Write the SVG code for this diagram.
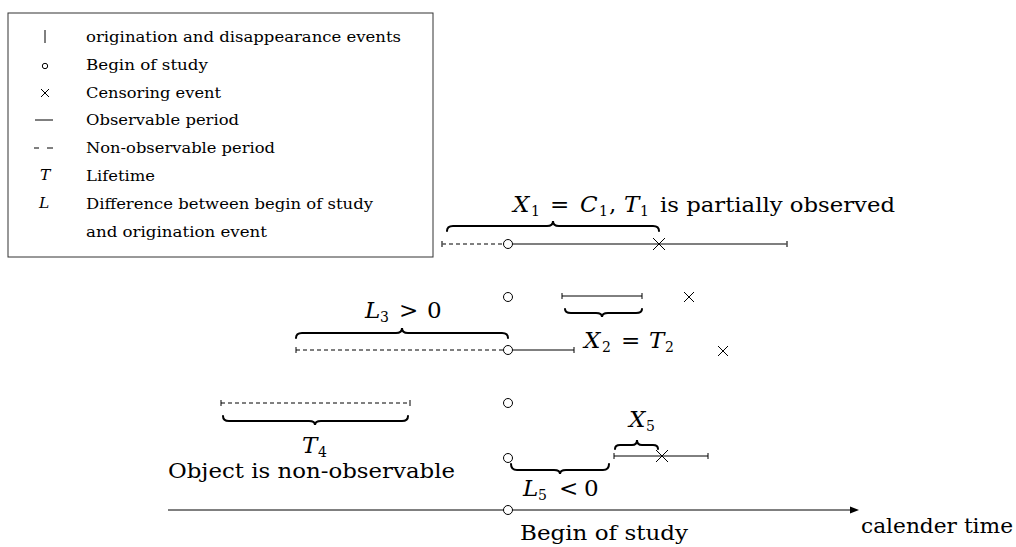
<svg xmlns="http://www.w3.org/2000/svg" width="1016" height="547" viewBox="0 0 1016 547">
<style>
text{font-family:"DejaVu Serif","Liberation Serif",serif;fill:#000}
.leg{font-size:15.5px}
.big{font-size:21px}
.m{font-size:23px}
.sub{font-size:14px}
.it{font-style:italic}
.ln{stroke:#000;stroke-width:1;fill:none}
.ln1{stroke:#555;stroke-width:1.6;fill:none}
.dash{stroke-dasharray:4 3}
.brace{stroke:#000;stroke-width:2;fill:none;stroke-linecap:round}
.circ{fill:#fff;stroke:#000;stroke-width:1}
</style>
<rect width="1016" height="547" fill="#fff"/>

<g id="legend">
<rect x="8" y="13" width="425" height="244" fill="#fff" stroke="#333" stroke-width="1"/>
<line class="ln" x1="45" y1="30" x2="45" y2="43"/>
<circle class="circ" cx="45" cy="66" r="2.7"/>
<path class="ln" d="M41,89 L49,97 M49,89 L41,97"/>
<line class="ln" x1="35" y1="120" x2="53" y2="120"/>
<path class="ln" d="M34,148 H39 M47,148 H53" stroke-width="1.3"/>
<text class="leg it" x="40" y="180">T</text>
<text class="leg it" x="39" y="208">L</text>
<text class="leg" x="86" y="41.5" textLength="315" lengthAdjust="spacingAndGlyphs">origination and disappearance events</text>
<text class="leg" x="86" y="69.5" textLength="122" lengthAdjust="spacingAndGlyphs">Begin of study</text>
<text class="leg" x="86" y="97.5" textLength="135" lengthAdjust="spacingAndGlyphs">Censoring event</text>
<text class="leg" x="86" y="125" textLength="153" lengthAdjust="spacingAndGlyphs">Observable period</text>
<text class="leg" x="86" y="153" textLength="189" lengthAdjust="spacingAndGlyphs">Non-observable period</text>
<text class="leg" x="86" y="181" textLength="69" lengthAdjust="spacingAndGlyphs">Lifetime</text>
<text class="leg" x="86" y="209" textLength="287" lengthAdjust="spacingAndGlyphs">Difference between begin of study</text>
<text class="leg" x="86" y="237" textLength="181" lengthAdjust="spacingAndGlyphs">and origination event</text>
</g>

<g id="connectors">
<g id="axis">
<line class="ln" x1="168" y1="510" x2="852" y2="510"/>
<polygon points="850,506.5 859,510 850,513.5" fill="#000"/>
</g>
</g>

<g id="row1">
<line class="ln1 dash" x1="442" y1="244" x2="503" y2="244"/>
<line class="ln1" x1="442" y1="241" x2="442" y2="247"/>
<line class="ln1" x1="512.5" y1="244" x2="787" y2="244"/>
<line class="ln1" x1="787" y1="241" x2="787" y2="247"/>
<circle class="circ" cx="508" cy="244" r="4.5" stroke="#333" stroke-width="1.3"/>
<path class="ln" d="M653,238 L665,250 M665,238 L653,250" stroke-width="1.3"/>
<path class="brace" d="M447,231 Q447,226 453,226 L547,226 Q553,226 553,221 Q553,226 559,226 L653,226 Q659,226 659,231"/>
<text class="m it" x="513" y="212">X</text>
<text class="sub" x="531" y="216">1</text>
<text class="m" x="550" y="212">=</text>
<text class="m it" x="580" y="212">C</text>
<text class="sub" x="599" y="216">1</text>
<text class="m" x="609" y="212">,</text>
<text class="m it" x="624" y="212">T</text>
<text class="sub" x="640" y="216">1</text>
<text class="big" x="660" y="212" textLength="235" lengthAdjust="spacingAndGlyphs">is partially observed</text>
</g>

<g id="row2">
<circle class="circ" cx="508" cy="297" r="4.5"/>
<line class="ln" x1="562" y1="296" x2="642" y2="296"/>
<line class="ln" x1="562" y1="293" x2="562" y2="299"/>
<line class="ln" x1="642" y1="293" x2="642" y2="299"/>
<path class="brace" d="M565,309 Q565,313 571,313 L596,313 Q602,313 602,317 Q602,313 608,313 L636,313 Q642,313 642,309"/>
<path class="ln" d="M684,292 L694,302 M694,292 L684,302"/>
<text class="m it" x="584" y="348">X</text>
<text class="sub" x="602" y="352">2</text>
<text class="m" x="621" y="348">=</text>
<text class="m it" x="649" y="348">T</text>
<text class="sub" x="665" y="352">2</text>
</g>

<g id="row3">
<line class="ln dash" x1="296" y1="350" x2="503" y2="350"/>
<line class="ln" x1="296" y1="347" x2="296" y2="353"/>
<line class="ln" x1="512.5" y1="350" x2="574" y2="350"/>
<line class="ln" x1="574" y1="347" x2="574" y2="353"/>
<circle class="circ" cx="508" cy="350" r="4.5"/>
<path class="brace" d="M296,338 Q296,333 302,333 L396,333 Q402,333 402,328 Q402,333 408,333 L502,333 Q508,333 508,338"/>
<text class="m it" x="365" y="318">L</text>
<text class="sub" x="380" y="322">3</text>
<text class="m" x="399" y="318">&gt;</text>
<text class="m" x="427" y="318">0</text>
<path class="ln" d="M718,346 L728,356 M728,346 L718,356"/>
</g>

<g id="row4">
<line class="ln dash" x1="221" y1="403" x2="410" y2="403"/>
<line class="ln" x1="221" y1="400" x2="221" y2="406"/>
<line class="ln" x1="410" y1="400" x2="410" y2="406"/>
<path class="brace" d="M223,416 Q223,421 229,421 L309,421 Q315,421 315,425 Q315,421 321,421 L402,421 Q408,421 408,416"/>
<circle class="circ" cx="508" cy="403" r="4.5"/>
<text class="m it" x="302" y="453">T</text>
<text class="sub" x="318" y="457">4</text>
<text class="big" x="168" y="478" textLength="287" lengthAdjust="spacingAndGlyphs">Object is non-observable</text>
</g>

<g id="row5">
<circle class="circ" cx="508" cy="458" r="4.5"/>
<path class="brace" d="M511,464 Q511,470 517,470 L554,470 Q560,470 560,474 Q560,470 566,470 L603,470 Q609,470 609,464"/>
<text class="m it" x="523" y="496">L</text>
<text class="sub" x="538" y="500">5</text>
<text class="m" x="559" y="496">&lt;</text>
<text class="m" x="584" y="496">0</text>
<line class="ln" x1="614" y1="456" x2="708" y2="456"/>
<line class="ln" x1="614" y1="453" x2="614" y2="459"/>
<line class="ln" x1="708" y1="453" x2="708" y2="459"/>
<path class="ln" d="M656,450 L668,462 M668,450 L656,462" stroke-width="1.2"/>
<path class="brace" d="M615,449 Q615,445 620,445 L632,445 Q637,445 637,440 Q637,445 642,445 L653,445 Q658,445 658,449"/>
<text class="m it" x="629" y="427">X</text>
<text class="sub" x="646" y="431">5</text>
</g>

<g id="study">
<circle class="circ" cx="508" cy="510" r="4.5"/>
<text class="big" x="520" y="540" textLength="168" lengthAdjust="spacingAndGlyphs">Begin of study</text>
<text class="big" x="861" y="533" textLength="152" lengthAdjust="spacingAndGlyphs">calender time</text>
</g>
</svg>
